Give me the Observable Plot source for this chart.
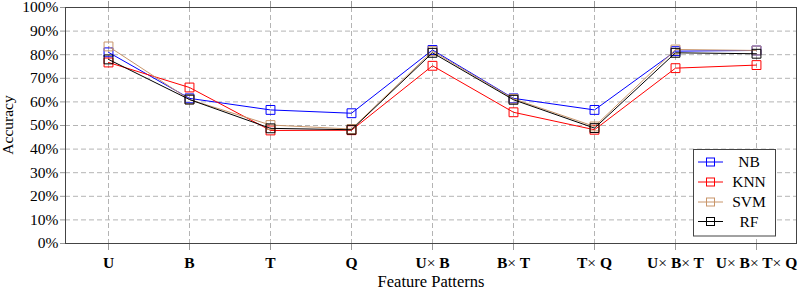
<!DOCTYPE html>
<html>
<head>
<meta charset="utf-8">
<script src="https://cdn.jsdelivr.net/npm/d3@7"></script>
<script src="https://cdn.jsdelivr.net/npm/@observablehq/plot@0.6"></script>
<style>
  html, body { margin: 0; padding: 0; background: #fff; }
  #chart svg { display: block; }
  #chart svg text, #chart svg tspan { font-family: "Liberation Serif", serif; }
</style>
</head>
<body>
<div id="chart"></div>
<script>
const categories = ["U", "B", "T", "Q", "U× B", "B× T", "T× Q", "U× B× T", "U× B× T× Q"];
const yTicks = [0, 10, 20, 30, 40, 50, 60, 70, 80, 90, 100];
const seriesNames = ["NB", "KNN", "SVM", "RF"];
const seriesColors = ["#0000ff", "#ff0000", "#c8956a", "#000000"];
const NB  = [81.0, 61.5, 56.6, 55.2, 82.0, 61.5, 56.6, 81.5, 81.8];
const KNN = [76.7, 66.1, 47.9, 48.0, 75.3, 55.6, 48.2, 74.3, 75.6];
const SVM = [83.5, 61.0, 50.2, 48.5, 81.5, 61.3, 49.6, 82.2, 81.8];
const RF  = [78.0, 61.0, 48.8, 48.2, 80.8, 60.9, 48.9, 80.8, 80.4];
const seriesValues = [NB, KNN, SVM, RF];

const FONT = "Liberation Serif";
const FS = 15.5;

const seriesMarks = [];
seriesNames.forEach((name, i) => {
  const rows = categories.map((c, j) => ({cat: c, v: seriesValues[i][j], series: name}));
  seriesMarks.push(Plot.line(rows, {x: "cat", y: "v", stroke: seriesColors[i], strokeWidth: 1}));
  seriesMarks.push(Plot.dot(rows, {x: "cat", y: "v", symbol: "square", r: 5, stroke: seriesColors[i], strokeWidth: 1, fill: "none"}));
});

const chart = Plot.plot({
  width: 799,
  height: 290,
  marginLeft: 65,
  marginRight: 3,
  marginTop: 7,
  marginBottom: 47,
  style: {fontFamily: FONT, fontSize: FS + "px", background: "#fff", overflow: "visible"},
  x: {type: "point", domain: categories, padding: 0, insetLeft: 41, insetRight: 39},
  y: {domain: [0, 100]},
  marks: [
    Plot.gridY(yTicks.slice(1, -1), {stroke: "#b4b4b4", strokeOpacity: 1, strokeDasharray: "5,3"}),
    Plot.gridX(categories, {stroke: "#b4b4b4", strokeOpacity: 1, strokeDasharray: "5,3"}),
    Plot.axisY(yTicks, {tickSize: 5, tickPadding: 2, stroke: "#999", fill: "#000", fontSize: FS, fontFamily: FONT, tickFormat: d => d + "%", label: null}),
    Plot.axisX(categories, {tickSize: 7, tickPadding: 6, stroke: "#999", fill: "#000", fontSize: FS, fontFamily: FONT, fontWeight: "bold", label: null}),
    Plot.axisX(categories, {anchor: "top", tickSize: 7, stroke: "#999", tickFormat: () => "", label: null}),
    Plot.frame({stroke: "#444", strokeWidth: 1}),
    ...seriesMarks
  ]
});

document.getElementById("chart").appendChild(chart);

const svg = d3.select(chart);
svg.attr("font-family", FONT);

// Render "×" in normal weight inside bold tick labels
svg.selectAll("g[aria-label='x-axis tick label'] text").each(function() {
  const t = d3.select(this);
  const label = t.text();
  if (!label.includes("×")) return;
  t.text(null);
  const parts = label.split("×");
  parts.forEach((p, k) => {
    t.append("tspan").attr("font-weight", "bold").text(p);
    if (k < parts.length - 1) t.append("tspan").attr("font-weight", "normal").text("×");
  });
});

// Axis titles
svg.append("text")
  .attr("x", 431).attr("y", 287)
  .attr("text-anchor", "middle")
  .attr("font-family", FONT).attr("font-size", 16.5)
  .text("Feature Patterns");
svg.append("text")
  .attr("transform", "translate(13,125) rotate(-90)")
  .attr("text-anchor", "middle")
  .attr("font-family", FONT).attr("font-size", FS)
  .text("Accuracy");

// Legend
const lg = svg.append("g");
lg.append("rect")
  .attr("x", 693.5).attr("y", 149.5).attr("width", 82).attr("height", 86.5)
  .attr("fill", "#fff").attr("stroke", "#444");
const rowY = [162, 182, 202, 221.5];
seriesNames.forEach((name, i) => {
  lg.append("line").attr("x1", 698).attr("x2", 723).attr("y1", rowY[i]).attr("y2", rowY[i])
    .attr("stroke", seriesColors[i]).attr("stroke-width", 1);
  lg.append("rect").attr("x", 706.5).attr("y", rowY[i] - 4).attr("width", 8).attr("height", 8)
    .attr("fill", "none").attr("stroke", seriesColors[i]).attr("stroke-width", 1);
  lg.append("text").attr("x", 749).attr("y", rowY[i]).attr("dy", "0.35em")
    .attr("text-anchor", "middle").attr("font-family", FONT).attr("font-size", FS)
    .text(name);
});
</script>
</body>
</html>
